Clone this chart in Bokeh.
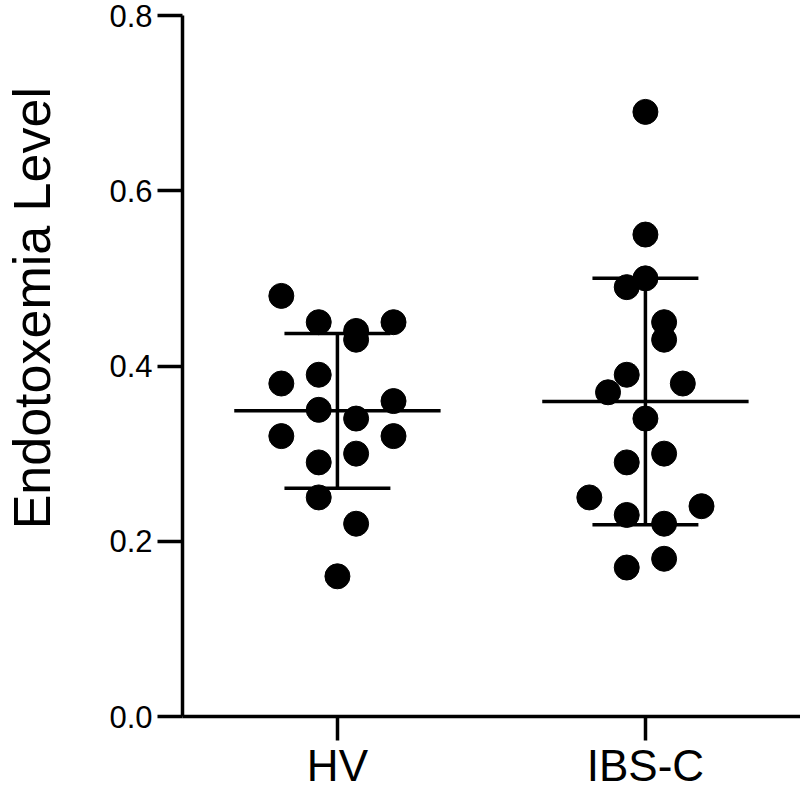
import numpy as np
from bokeh.plotting import figure
from bokeh.models import FixedTicker, CustomJSTickFormatter
from bokeh.embed import file_html
from bokeh.resources import INLINE

# ---- data ----
categories = ["HV", "IBS-C"]
hv_values = [0.48, 0.45, 0.44, 0.45, 0.43, 0.38, 0.39, 0.35, 0.34, 0.36,
             0.32, 0.32, 0.30, 0.29, 0.25, 0.22, 0.16]
hv_slots = [-3, -1, 1, 3, 1, -3, -1, -1, 1, 3, -3, 3, 1, -1, -1, 1, 0]
ibs_values = [0.69, 0.55, 0.50, 0.49, 0.45, 0.43, 0.39, 0.38, 0.37, 0.34,
              0.30, 0.29, 0.25, 0.24, 0.23, 0.22, 0.18, 0.17]
ibs_slots = [0, 0, 0, -1, 1, 1, -1, 2, -2, 0, 1, -1, -3, 3, -1, 1, 1, -1]
y_ticks = [0.0, 0.2, 0.4, 0.6, 0.8]
y_label = "Endotoxemia Level"

FONT = "Liberation Sans"
step = 0.0607          # horizontal spacing of swarm slots (x units)
mean_half = 0.335
cap_half = 0.172

p = figure(frame_width=620, frame_height=701,
           x_range=(0.497, 2.51), y_range=(0.0, 0.8),
           output_backend="svg", toolbar_location=None,
           min_border_left=180, min_border_top=15,
           min_border_right=0, min_border_bottom=60)

p.outline_line_color = None
p.xgrid.visible = False
p.ygrid.visible = False
p.background_fill_color = "white"
p.border_fill_color = "white"

groups = [(1, hv_values, hv_slots), (2, ibs_values, ibs_slots)]
for cx, vals, slots in groups:
    v = np.array(vals)
    xs = cx + np.array(slots) * step
    p.scatter(xs, v, size=25, color="black", line_color="black")
    m = v.mean()
    s = v.std(ddof=1)
    p.segment(x0=[cx - mean_half], y0=[m], x1=[cx + mean_half], y1=[m],
              line_color="black", line_width=3.5)
    p.segment(x0=[cx - cap_half, cx - cap_half, cx],
              y0=[m + s, m - s, m - s],
              x1=[cx + cap_half, cx + cap_half, cx],
              y1=[m + s, m - s, m + s],
              line_color="black", line_width=3.5)

# x axis
p.xaxis.ticker = FixedTicker(ticks=[1, 2])
p.xaxis.major_label_overrides = {1: categories[0], 2: categories[1]}
p.xaxis.major_tick_out = 24
p.xaxis.major_tick_in = 0
p.xaxis.minor_tick_line_color = None
p.xaxis.major_label_text_font = FONT
p.xaxis.major_label_text_font_size = "44px"
p.xaxis.major_label_text_color = "black"
p.xaxis.major_label_standoff = 0
p.xaxis.axis_line_width = 3.5
p.xaxis.major_tick_line_width = 3.5

# y axis
p.yaxis.ticker = FixedTicker(ticks=y_ticks)
p.yaxis.formatter = CustomJSTickFormatter(code="return tick.toFixed(1);")
p.yaxis.major_tick_out = 25
p.yaxis.major_tick_in = 0
p.yaxis.minor_tick_line_color = None
p.yaxis.major_label_text_font = FONT
p.yaxis.major_label_text_font_size = "31px"
p.yaxis.major_label_text_color = "black"
p.yaxis.major_label_standoff = 5
p.yaxis.axis_line_width = 3.5
p.yaxis.major_tick_line_width = 3.5

# axis title (leading no-break spaces shift it up along the axis, as in the original)
p.yaxis.axis_label = "\u00a0" * 8 + y_label
p.yaxis.axis_label_text_font = FONT
p.yaxis.axis_label_text_font_size = "52px"
p.yaxis.axis_label_text_font_style = "normal"
p.yaxis.axis_label_text_color = "black"
p.yaxis.axis_label_standoff = 45

open("out.html", "w").write(file_html(p, INLINE))
